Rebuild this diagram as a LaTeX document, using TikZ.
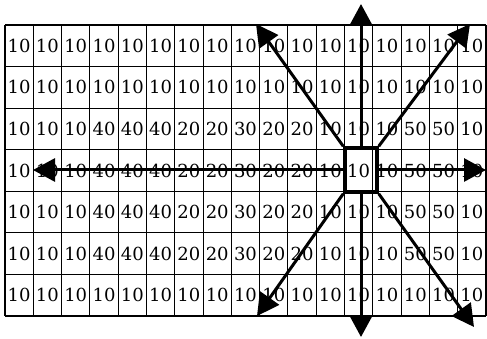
\documentclass[tikz,border=0pt]{standalone}
\usepackage{fontspec}
\setmainfont{DejaVu Serif}
\usepackage{tikz}
\usetikzlibrary{arrows.meta, positioning}

\begin{document}
\begin{tikzpicture}[x=1pt, y=-1pt, >={Triangle[length=22pt, width=23pt]}]
    \tikzstyle{cell} = [font=\fontsize{18}{18}\selectfont, inner sep=0pt]
    \tikzstyle{grid} = [line width=1.1pt]
    \tikzstyle{focus} = [rectangle, draw, line width=3.5pt, minimum width=32pt, minimum height=44pt]
    \tikzstyle{line} = [draw, ->, line width=3pt]

    \useasboundingbox (0,0) rectangle (487,339);

    % grid of 17 x 7 cells
    \foreach \i in {0,...,17}
        \draw[grid] ({5+\i*28.294},25) -- ({5+\i*28.294},316);
    \foreach \j in {0,...,7}
        \draw[grid] (5,{25+\j*41.571}) -- (486,{25+\j*41.571});

    % cell values
    \foreach \vals [count=\j] in {
        {10,10,10,10,10,10,10,10,10,10,10,10,10,10,10,10,10},
        {10,10,10,10,10,10,10,10,10,10,10,10,10,10,10,10,10},
        {10,10,10,40,40,40,20,20,30,20,20,10,10,10,50,50,10},
        {10,10,10,40,40,40,20,20,30,20,20,10,10,10,50,50,10},
        {10,10,10,40,40,40,20,20,30,20,20,10,10,10,50,50,10},
        {10,10,10,40,40,40,20,20,30,20,20,10,10,10,50,50,10},
        {10,10,10,10,10,10,10,10,10,10,10,10,10,10,10,10,10}}
        \foreach \v [count=\i] in \vals
            \node[cell] (c-\i-\j) at ({5+(\i-0.5)*28.294},{25+(\j-0.5)*41.571}) {\v};

    % centre pixel and its eight directions
    \node[focus] (sq) at (361,170) {};

    \coordinate (tipN) at (361,4);
    \coordinate (tipS) at (361,337);
    \coordinate (tipW) at (33,170);
    \coordinate (tipE) at (486,170);
    \coordinate (tipNW) at (256,24);
    \coordinate (tipNE) at (470,24);
    \coordinate (tipSW) at (257,316);
    \coordinate (tipSE) at (474,327);

    \path [line] (sq.north) -- (tipN);
    \path [line] (sq.south) -- (tipS);
    \path [line] (sq.west) -- (tipW);
    \path [line] (sq.east) -- (tipE);
    \path [line] (sq.north west) -- (tipNW);
    \path [line] (sq.north east) -- (tipNE);
    \path [line] (sq.south west) -- (tipSW);
    \path [line] (sq.south east) -- (tipSE);
\end{tikzpicture}
\end{document}
